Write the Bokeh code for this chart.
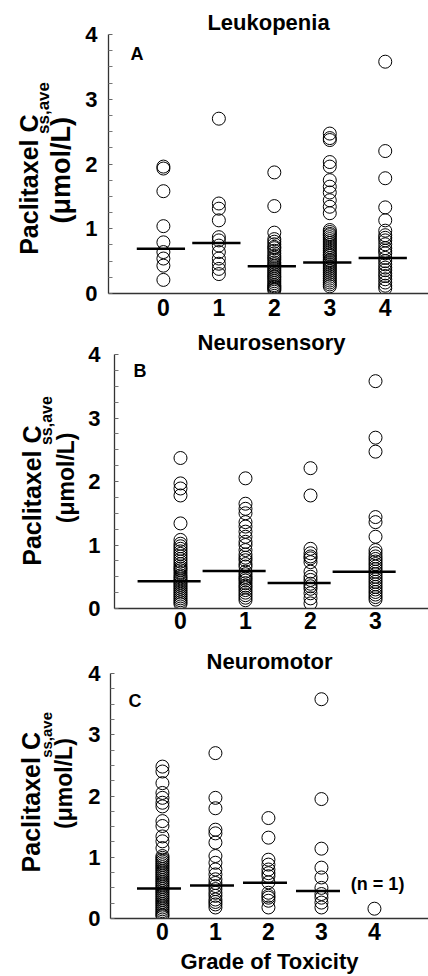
import math
from bokeh.plotting import figure
from bokeh.models import ColumnDataSource, Range1d, FixedTicker, Label, Title
from bokeh.layouts import column, row
from bokeh.core.properties import value
from bokeh.embed import file_html
from bokeh.resources import INLINE

FONT = "Liberation Sans"

# ---------------- data ----------------
# Panel A: Leukopenia
leuk_grades = [0, 1, 2, 3, 4]
leuk_g0 = [1.96, 1.93, 1.58, 1.04, 0.79, 0.64, 0.54, 0.43, 0.21]
leuk_g1 = [2.70, 1.39, 1.31, 1.13, 0.87, 0.82, 0.74, 0.64, 0.54, 0.46, 0.38, 0.30]
leuk_g2 = [1.87, 1.35, 0.94, 0.84, 0.80, 0.76, 0.72, 0.70, 0.66, 0.62, 0.58, 0.55,
           0.52, 0.48, 0.45, 0.42, 0.39, 0.36, 0.33, 0.30, 0.27, 0.25, 0.22, 0.19,
           0.16, 0.13, 0.11, 0.09, 0.07, 0.05]
leuk_g3 = [2.47, 2.40, 2.37, 2.03, 1.96, 1.75, 1.65, 1.56, 1.44, 1.34, 1.24, 0.98,
           0.95, 0.92, 0.90, 0.87, 0.84, 0.81, 0.78, 0.75, 0.72, 0.69, 0.66, 0.63,
           0.60, 0.58, 0.55, 0.52, 0.50, 0.47, 0.44, 0.41, 0.38, 0.35, 0.32, 0.29,
           0.26, 0.23, 0.20, 0.17, 0.14, 0.11]
leuk_g4 = [3.58, 2.20, 1.78, 1.33, 1.13, 0.97, 0.90, 0.86, 0.82, 0.76, 0.70, 0.66,
           0.62, 0.55, 0.50, 0.45, 0.40, 0.36, 0.31, 0.27, 0.22, 0.17, 0.12, 0.08]
leuk_median = [0.69, 0.78, 0.42, 0.48, 0.55]

# Panel B: Neurosensory
sens_grades = [0, 1, 2, 3]
sens_g0 = [2.37, 1.97, 1.89, 1.78, 1.34, 1.08, 1.02, 0.98, 0.94, 0.90, 0.86, 0.82,
           0.78, 0.74, 0.70, 0.66, 0.63, 0.60, 0.56, 0.52, 0.49, 0.46, 0.43, 0.40,
           0.37, 0.34, 0.31, 0.28, 0.25, 0.22, 0.19, 0.16, 0.13, 0.10, 0.07]
sens_g1 = [2.05, 1.65, 1.57, 1.50, 1.36, 1.29, 1.21, 1.13, 1.05, 1.00, 0.92, 0.85,
           0.80, 0.76, 0.70, 0.66, 0.58, 0.54, 0.50, 0.47, 0.44, 0.40, 0.36, 0.33,
           0.29, 0.25, 0.21, 0.17, 0.13]
sens_g2 = [2.21, 1.78, 0.94, 0.87, 0.82, 0.79, 0.73, 0.58, 0.50, 0.45, 0.39, 0.35,
           0.31, 0.24, 0.16, 0.08]
sens_g3 = [3.58, 2.69, 2.47, 1.44, 1.36, 1.13, 0.92, 0.87, 0.82, 0.78, 0.74, 0.70,
           0.66, 0.62, 0.58, 0.54, 0.50, 0.46, 0.42, 0.38, 0.34, 0.30, 0.26, 0.22,
           0.18, 0.14]
sens_median = [0.43, 0.59, 0.40, 0.58]

# Panel C: Neuromotor
motor_grades = [0, 1, 2, 3, 4]
motor_g0 = [2.48, 2.40, 2.21, 2.05, 1.97, 1.89, 1.83, 1.59, 1.51, 1.34, 1.26, 1.15,
            1.02, 0.99, 0.96, 0.93, 0.90, 0.87, 0.84, 0.81, 0.78, 0.75, 0.72, 0.69,
            0.66, 0.63, 0.60, 0.57, 0.54, 0.51, 0.48, 0.45, 0.42, 0.39, 0.36, 0.33,
            0.30, 0.27, 0.24, 0.21, 0.18, 0.15, 0.12, 0.09, 0.06, 0.04]
motor_g1 = [2.70, 1.97, 1.80, 1.45, 1.39, 1.24, 1.02, 0.91, 0.80, 0.72, 0.64, 0.58,
            0.53, 0.48, 0.42, 0.37, 0.31, 0.27, 0.23, 0.18]
motor_g2 = [1.64, 1.32, 0.96, 0.88, 0.80, 0.74, 0.69, 0.59, 0.42, 0.37, 0.34, 0.29,
            0.18]
motor_g3 = [3.58, 1.95, 1.14, 0.83, 0.67, 0.50, 0.40, 0.34, 0.26, 0.18]
motor_g4 = [0.16]
motor_median_grades = [0, 1, 2, 3]
motor_median = [0.49, 0.54, 0.585, 0.45]

tick_labels_y = ["0", "1", "2", "3", "4"]
y_label_main = "Paclitaxel C"
y_label_sub = "ss,ave"
y_label_unit = "(μmol/L)"
x_label = "Grade of Toxicity"

STRIP_W = 80
TITLE_HAS_STANDOFF = "standoff" in Title.properties()


def label_strip(height, parts):
    """Narrow figure on the left that holds the rotated y-axis title."""
    s = figure(width=STRIP_W, height=height, output_backend="svg",
               toolbar_location=None, x_axis_type=None, y_axis_type=None,
               x_range=Range1d(0, STRIP_W), y_range=Range1d(0, height),
               min_border=0, min_border_left=0, min_border_right=0,
               min_border_top=0, min_border_bottom=0)
    s.outline_line_color = None
    s.xgrid.visible = False
    s.ygrid.visible = False
    for (xx, yy, size, txt) in parts:
        s.text(x=[xx], y=[height - yy], text=[txt], angle=math.pi / 2,
               text_font=value(FONT), text_font_style="bold",
               text_font_size=value(size), text_align="center",
               text_baseline="middle", text_color="black")
    return s


def make_panel(height, left, top, bottom, xr, grades, groups, med_grades, medians,
               seg_lo, seg_hi, title, toff, tsize, letter, lx, ly, ystand, xstand):
    p = figure(width=428 - STRIP_W, height=height, output_backend="svg",
               toolbar_location=None,
               x_range=Range1d(*xr), y_range=Range1d(0, 4),
               min_border_left=left - STRIP_W, min_border_right=0,
               min_border_top=top, min_border_bottom=bottom)
    p.outline_line_color = None
    p.xgrid.visible = False
    p.ygrid.visible = False
    p.background_fill_color = "white"
    p.border_fill_color = "white"

    p.title.text = title
    p.title.align = "center"
    p.title.offset = toff
    p.title.text_font = FONT
    p.title.text_font_style = "bold"
    p.title.text_font_size = tsize
    p.title.text_color = "black"
    if TITLE_HAS_STANDOFF:
        p.title.standoff = 0

    xs, ys = [], []
    for g, vals in zip(grades, groups):
        xs += [g] * len(vals)
        ys += vals
    src = ColumnDataSource(dict(x=xs, y=ys))
    p.scatter("x", "y", source=src, marker="circle", size=13, fill_color=None,
              line_color="black", line_width=1)

    msrc = ColumnDataSource(dict(x0=[g + seg_lo for g in med_grades],
                                 x1=[g + seg_hi for g in med_grades],
                                 y=medians))
    p.segment(x0="x0", x1="x1", y0="y", y1="y", source=msrc,
              line_color="black", line_width=2.5)

    # axes
    p.xaxis.ticker = FixedTicker(ticks=grades)
    p.xaxis.major_tick_in = 0
    p.xaxis.major_tick_out = 0
    p.xaxis.minor_tick_in = 0
    p.xaxis.minor_tick_out = 0
    p.xaxis.axis_line_color = "#333333"
    p.xaxis.axis_line_width = 1.3
    p.xaxis.major_label_text_font = FONT
    p.xaxis.major_label_text_font_style = "bold"
    p.xaxis.major_label_text_font_size = "23px"
    p.xaxis.major_label_text_color = "black"
    p.xaxis.major_label_standoff = xstand

    p.yaxis.ticker = FixedTicker(ticks=[0, 1, 2, 3, 4],
                                 minor_ticks=[0.25, 0.5, 0.75, 1.25, 1.5, 1.75, 2.25,
                                              2.5, 2.75, 3.25, 3.5, 3.75])
    p.yaxis.major_label_overrides = {i: s for i, s in enumerate(tick_labels_y)}
    p.yaxis.major_tick_in = 4
    p.yaxis.major_tick_out = 0
    p.yaxis.minor_tick_in = 4
    p.yaxis.minor_tick_out = 0
    p.yaxis.major_tick_line_color = "#666666"
    p.yaxis.minor_tick_line_color = "#777777"
    p.yaxis.axis_line_color = "#333333"
    p.yaxis.axis_line_width = 1.3
    p.yaxis.major_label_text_font = FONT
    p.yaxis.major_label_text_font_style = "bold"
    p.yaxis.major_label_text_font_size = "22px"
    p.yaxis.major_label_text_color = "black"
    p.yaxis.major_label_standoff = ystand

    # panel letter (inside the frame)
    p.add_layout(Label(x=lx, y=ly, x_units="screen", y_units="screen", text=letter,
                       text_font=FONT, text_font_style="bold", text_font_size="18px",
                       text_color="black", text_align="left", text_baseline="middle"))
    return p


# Panel A: height 326, frame left 108, top 34, bottom at 293
pA = make_panel(326, 108, 34, 33, (-0.99, 4.78), leuk_grades,
                [leuk_g0, leuk_g1, leuk_g2, leuk_g3, leuk_g4],
                leuk_grades, leuk_median, -0.48, 0.39,
                "Leukopenia", 5, "22px", "A", 22, 240, 11, 5)
sA = label_strip(326, [(28, 189, "25px", y_label_main),
                       (43, 92.5, "17px", y_label_sub),
                       (60, 171, "27px", y_label_unit)])

# Panel B: height 315, frame top 28, frame bottom local 282
pB = make_panel(315, 114, 28, 33, (-1.015, 3.815), sens_grades,
                [sens_g0, sens_g1, sens_g2, sens_g3],
                sens_grades, sens_median, -0.66, 0.31,
                "Neurosensory", 7, "22px", "B", 19, 238, 14, 3)
sB = label_strip(315, [(31, 175, "25px", y_label_main),
                       (46, 82, "16px", y_label_sub),
                       (65, 153, "23px", y_label_unit)])

# Panel C: height 335, frame top 32, frame bottom local 278
pC = make_panel(335, 110, 32, 57, (-0.98, 5.02), motor_grades,
                [motor_g0, motor_g1, motor_g2, motor_g3, motor_g4],
                motor_median_grades, motor_median, -0.48, 0.35,
                "Neuromotor", -2, "22px", "C", 18, 218, 10, 4)
sC = label_strip(335, [(30, 176, "25px", y_label_main),
                       (46, 84, "15px", y_label_sub),
                       (63, 150.5, "23px", y_label_unit)])

pC.add_layout(Label(x=4.06, y=0.56, text="(n = 1)", text_font=FONT,
                    text_font_style="bold", text_font_size="18px", text_color="black",
                    text_align="center", text_baseline="middle"))
pC.xaxis.axis_label = x_label
pC.xaxis.axis_label_text_font = FONT
pC.xaxis.axis_label_text_font_style = "bold"
pC.xaxis.axis_label_text_font_size = "22px"
pC.xaxis.axis_label_text_color = "black"
pC.xaxis.axis_label_standoff = 6

layout = column(row(sA, pA, spacing=0), row(sB, pB, spacing=0),
                row(sC, pC, spacing=0), spacing=0)
open("out.html", "w").write(file_html(layout, INLINE))
